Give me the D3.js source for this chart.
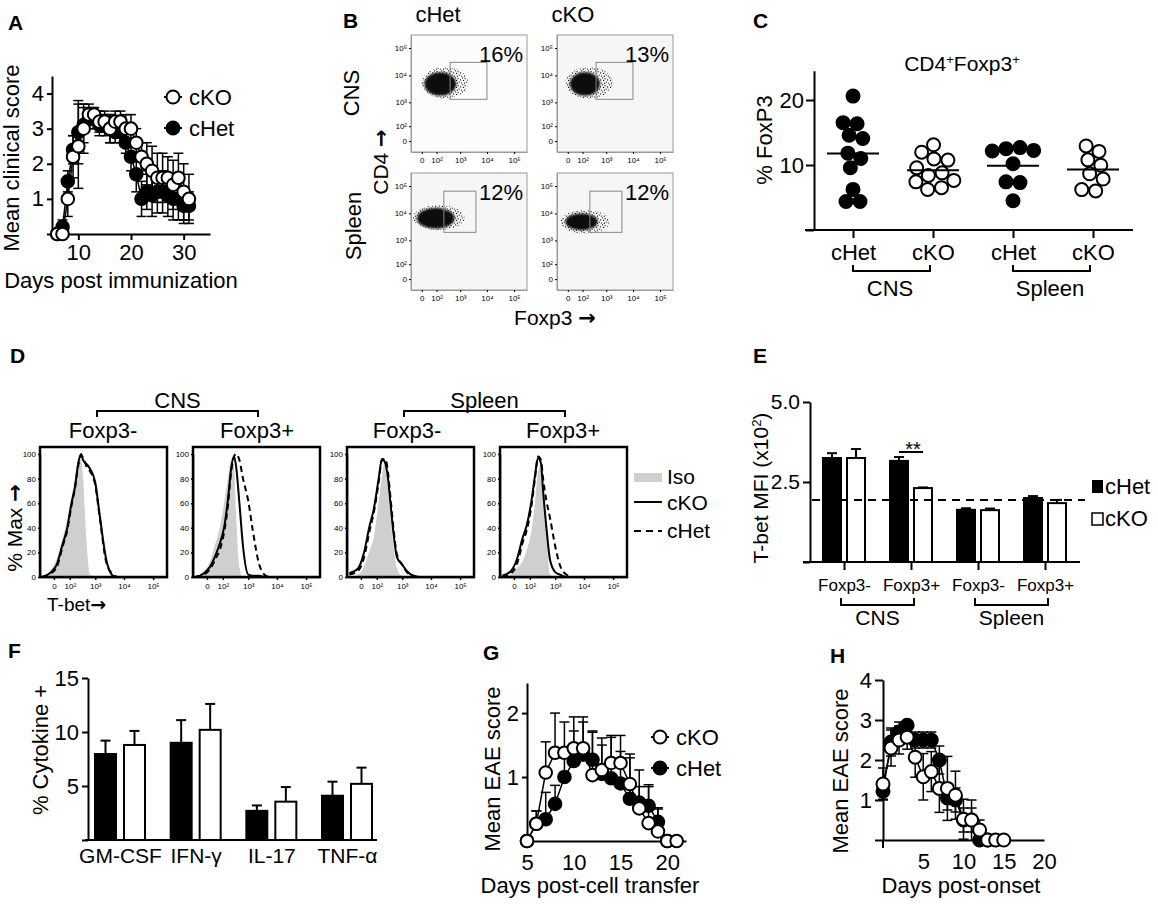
<!DOCTYPE html>
<html lang="en">
<head>
<meta charset="UTF-8">
<title>Foxp3 / T-bet EAE figure</title>
<script src="https://d3js.org/d3.v7.min.js"></script>
<style>
  body { margin: 0; background: #fff; }
  svg { display: block; font-family: 'Liberation Sans', Arial, sans-serif; }
  text { fill: #000; }
  .letter { font-weight: bold; font-size: 21px; }
  .arrow { font-family: 'DejaVu Sans', sans-serif; }
</style>
</head>
<body>
<svg id="fig" width="1158" height="906"></svg>
<script>
// ---------- data ----------
// A: mean clinical score
var daysA    = [6,7,8,9,10,11,12,13,14,15,16,17,18,19,20,21,22,23,24,25,26,27,28,29,30,31];
var ckoA     = [0,0,1.0,2.2,2.5,3.0,3.4,3.4,3.2,3.2,3.0,3.2,3.2,3.0,3.0,2.6,2.2,2.0,1.8,1.6,1.6,1.6,1.4,1.6,1.2,1.0];
var ckoErrA  = [0,0,0.5,0.6,1.2,0.7,0.3,0.2,0.3,0.3,0.4,0.3,0.3,0.4,0.4,0.4,0.4,0.6,0.7,0.7,0.7,0.6,0.7,0.7,0.8,0.7];
var chetA    = [0,0.2,1.5,2.4,2.9,3.1,3.3,3.3,3.1,3.1,3.0,2.9,2.9,2.6,2.2,1.7,1.0,1.2,1.1,1.2,1.2,1.1,1.0,1.0,0.8,0.8];
var chetErrA = [0,0.2,0.3,0.4,0.9,0.5,0.3,0.3,0.3,0.3,0.4,0.3,0.3,0.3,0.4,0.5,0.5,0.5,0.6,0.6,0.6,0.6,0.6,0.6,0.5,0.4];

// B: flow plots (cHet CNS, cKO CNS, cHet Spleen, cKO Spleen)
var flowCols = ["cHet", "cKO"];
var flowRows = ["CNS", "Spleen"];
var flowPct  = ["16%", "13%", "12%", "12%"];
var flowTicks = [0, 1e2, 1e3, 1e4, 1e5];
var flowTickLabels = ["0", "10\u00b2", "10\u00b3", "10\u2074", "10\u2075"];
var gateFoxp3   = [[400, 10000], [400, 10000], [220, 3900], [220, 3900]];
var gateCD4     = [[1300, 30000], [1300, 30000], [2000, 65000], [2000, 65000]];
var coreFoxp3   = [[10, 700], [8, 570], [-20, 600], [-9, 460]];
var coreCD4     = [[1800, 13000], [1800, 13000], [2800, 15700], [2400, 10000]];
var fringeFoxp3 = [[0, 2000], [-9, 1780], [-45, 1480], [-35, 1400]];
var fringeCD4   = [[1400, 20000], [1400, 20000], [2400, 20000], [1800, 13200]];

// C: % FoxP3
var cLabels = ["cHet", "cKO", "cHet", "cKO"];
var cHetCNS = [20.6, 16.3, 16.3, 14.8, 14.1, 11.8, 11.0, 9.6, 6.0, 4.5, 4.5];
var cKoCNS  = [13.1, 11.9, 11.0, 10.6, 9.3, 8.7, 8.5, 7.8, 7.6, 6.5, 6.3];
var cHetSpl = [12.5, 12.3, 12.2, 12.6, 10.2, 7.4, 7.3, 4.5];
var cKoSpl  = [12.8, 11.9, 10.7, 10.0, 8.9, 7.8, 6.2, 6.2];

// D: T-bet histograms (% of max) on a common intensity grid
var dTitles  = ["Foxp3-", "Foxp3+", "Foxp3-", "Foxp3+"];
var tbetGrid = [-60, -10, 10, 40, 70, 120, 170, 230, 300, 360, 480, 650, 1000, 1450, 2450, 4200, 6000];
var iso1  = [0, 6, 15, 32, 45, 65, 80, 95, 96, 80, 30, 2, 0, 0, 0, 0, 0];
var cko1  = [0, 4, 10, 27, 38, 60, 73, 92, 100, 95, 92, 88, 77, 50, 14, 1, 0];
var chet1 = [0, 3, 8, 25, 36, 58, 72, 90, 99, 97, 90, 86, 75, 48, 12, 2, 0];
var iso2  = [0, 5, 12, 28, 40, 62, 80, 96, 90, 50, 8, 0, 0, 0, 0, 0, 0];
var cko2  = [0, 3, 8, 18, 27, 42, 63, 88, 98, 90, 60, 25, 2, 1, 1, 0, 0];
var chet2 = [0, 2, 6, 15, 22, 38, 58, 85, 98, 100, 95, 80, 62, 38, 10, 1, 0];
var iso3  = [0, 2, 8, 22, 32, 60, 82, 95, 72, 52, 25, 7, 1, 0, 0, 0, 0];
var cko3  = [3, 7, 19, 42, 55, 79, 96, 93, 80, 63, 36, 16, 10, 5, 1, 0, 0];
var chet3 = [2, 5, 15, 38, 52, 76, 95, 96, 85, 68, 40, 18, 10, 4, 1, 0, 0];
var iso4  = [0, 2, 7, 13, 22, 38, 60, 86, 90, 72, 35, 2, 0, 0, 0, 0, 0];
var cko4  = [1, 5, 14, 32, 42, 62, 82, 97, 92, 70, 40, 14, 4, 2, 0, 0, 0];
var chet4 = [0, 3, 10, 28, 38, 58, 80, 98, 95, 80, 62, 48, 25, 10, 2, 0, 0];
var dTicksY = [0, 20, 40, 60, 80, 100];

// E: T-bet MFI (x10^2)
var eCats    = ["Foxp3- ", "Foxp3+ ", "Foxp3-", "Foxp3+"];
var eChet    = [3.25, 3.16, 1.63, 2.0];
var eChetErr = [0.15, 0.12, 0.05, 0.06];
var eCko     = [3.25, 2.31, 1.62, 1.84];
var eCkoErr  = [0.28, 0.02, 0.05, 0.1];
var eIsoLine = 1.94;

// F: % cytokine+
var fCats    = ["GM-CSF", "IFN-\u03b3", "IL-17", "TNF-\u03b1"];
var fChet    = [7.96, 9.0, 2.7, 4.1];
var fChetErr = [1.24, 2.1, 0.5, 1.3];
var fCko     = [8.8, 10.2, 3.55, 5.2];
var fCkoErr  = [1.3, 2.4, 1.35, 1.5];

// G: EAE after cell transfer
var daysG    = [5,6,7,8,9,10,11,12,13,14,15,16,17,18,19,20,21];
var ckoG     = [0,0.27,1.07,1.38,1.38,1.45,1.45,1.03,1.11,1.22,1.22,0.89,0.51,0.28,0.15,0,0];
var ckoErrG  = [0,0.2,0.48,0.62,0.48,0.49,0.49,0.67,0.5,0.4,0.43,0.47,0.6,0.6,0.35,0,0];
var daysGh   = [5,6,7,8,9,10,11,12,13,14,15,16,17,18,19,20];
var chetG    = [0,0.27,0.34,0.58,1.0,1.25,1.35,1.27,1.05,0.98,0.9,0.66,0.6,0.55,0.3,0];
var chetErrG = [0,0.2,0.42,0.29,0.3,0.47,0.51,0.45,0.45,0.67,0.5,0.64,0.25,0.3,0.22,0];

// H: EAE post onset
var daysH    = [0,1,2,3,4,5,6,7,8,9,10,11,12,13,14,15];
var ckoH     = [1.4,2.3,2.5,2.57,2.07,1.58,1.71,1.29,1.29,1.12,0.52,0.5,0.25,0,0,0];
var ckoErrH  = [0.4,0.45,0.35,0.3,0.5,0.58,0.5,0.6,0.8,0.6,0.5,0.5,0.25,0,0,0];
var daysHh   = [0,1,2,3,4,5,6,7,8,9,10,11,12,13];
var chetH    = [1.22,2.45,2.7,2.87,2.5,2.5,2.5,2.0,1.05,1.0,0.5,0.5,0,0];
var chetErrH = [0.2,0.35,0.25,0.1,0.2,0.2,0.2,0.35,0.3,0.3,0.3,0.3,0,0];

// ---------- helpers ----------
var svg = d3.select("#fig");

function addText(g, x, y, str, size, anchor, rotate) {
  var t = g.append("text").attr("x", x).attr("y", y)
    .attr("font-size", size).attr("text-anchor", anchor || "start");
  // arrows look too thin in Liberation, borrow DejaVu for them
  str.split(/(\u2192)/).forEach(function (part) {
    if (!part) return;
    var s = t.append("tspan").text(part);
    if (part === "\u2192") s.attr("class", "arrow").attr("font-weight", "bold");
  });
  if (rotate) t.attr("transform", "rotate(-90," + x + "," + y + ")");
  return t;
}

function fixAxis(g, size, width) {
  g.attr("font-family", null).attr("font-size", size);
  g.selectAll(".domain, .tick line").attr("stroke", "#000").attr("stroke-width", width || 2);
  g.selectAll(".tick text").attr("fill", "#000");
  return g;
}

function blankZero(d) { return d === 0 ? "" : d; }

function drawSeries(g, x, y, days, vals, errs, filled, r, upOnly) {
  var pts = days.map(function (d, i) { return { d: d, v: vals[i], e: errs[i] }; });
  g.append("path").datum(pts)
    .attr("fill", "none").attr("stroke", "#000").attr("stroke-width", 1.5)
    .attr("d", d3.line().x(function (p) { return x(p.d); }).y(function (p) { return y(p.v); }));
  var eb = g.append("g").attr("stroke", "#000").attr("stroke-width", 1.5);
  pts.filter(function (p) { return p.e > 0; }).forEach(function (p) {
    var lo = upOnly ? p.v : Math.max(0, p.v - p.e);
    eb.append("line").attr("x1", x(p.d)).attr("x2", x(p.d)).attr("y1", y(lo)).attr("y2", y(p.v + p.e));
    eb.append("line").attr("x1", x(p.d) - 5).attr("x2", x(p.d) + 5).attr("y1", y(p.v + p.e)).attr("y2", y(p.v + p.e));
    if (!upOnly && p.v - p.e > 0)
      eb.append("line").attr("x1", x(p.d) - 5).attr("x2", x(p.d) + 5).attr("y1", y(lo)).attr("y2", y(lo));
  });
  g.selectAll(null).data(pts).enter().append("circle")
    .attr("cx", function (p) { return x(p.d); })
    .attr("cy", function (p) { return y(p.v); })
    .attr("r", r)
    .attr("fill", filled ? "#000" : "#fff")
    .attr("stroke", "#000").attr("stroke-width", 2);
}

function legendDot(g, x, y, label, filled) {
  g.append("line").attr("x1", x - 9).attr("x2", x + 9).attr("y1", y).attr("y2", y)
    .attr("stroke", "#000").attr("stroke-width", 2);
  g.append("circle").attr("cx", x).attr("cy", y).attr("r", 6.5)
    .attr("fill", filled ? "#000" : "#fff").attr("stroke", "#000").attr("stroke-width", 2);
  addText(g, x + 16, y + 8, label, 22);
}

// ---------- Panel A ----------
(function () {
  var g = svg.append("g");
  addText(g, 8, 30, "A", 21).attr("class", "letter");
  var x = d3.scaleLinear().domain([5, 35]).range([52, 210]);
  var y = d3.scaleLinear().domain([0, 4.5]).range([234, 76]);
  fixAxis(g.append("g").attr("transform", "translate(0,234)")
    .call(d3.axisBottom(x).tickValues([10, 20, 30]).tickSize(6).tickSizeOuter(0).tickPadding(4)), 22);
  fixAxis(g.append("g").attr("transform", "translate(52,0)")
    .call(d3.axisLeft(y).tickValues([0, 1, 2, 3, 4]).tickFormat(blankZero).tickSize(5).tickSizeOuter(0).tickPadding(3)), 22);
  drawSeries(g, x, y, daysA, chetA, chetErrA, true, 6.3, false);
  drawSeries(g, x, y, daysA, ckoA, ckoErrA, false, 6.3, false);
  addText(g, 121, 288, "Days post immunization", 22, "middle");
  addText(g, 19, 158, "Mean clinical score", 22, "middle", true);
  legendDot(g, 173, 97, "cKO", false);
  legendDot(g, 173, 128, "cHet", true);
})();

// ---------- Panel B ----------
(function () {
  var g = svg.append("g");
  addText(g, 343, 28, "B", 21).attr("class", "letter");
  var defs = svg.append("defs");
  var pat = defs.append("pattern").attr("id", "speckle").attr("patternUnits", "userSpaceOnUse")
    .attr("width", 7).attr("height", 7);
  [[0.6, 0.8], [3.1, 1.7], [5.6, 2.9], [1.6, 3.4], [4.2, 5.1], [2.4, 6.2], [6.4, 6.0]].forEach(function (p) {
    pat.append("circle").attr("cx", p[0]).attr("cy", p[1]).attr("r", 0.6).attr("fill", "#000");
  });
  defs.append("filter").attr("id", "soft").append("feGaussianBlur").attr("stdDeviation", 1.3);

  var colX = [411, 557], rowY = [35, 173], w = 116, h = 117;
  flowCols.forEach(function (c, i) { addText(g, colX[i] + 27 + (i === 0 ? 0 : -11), 22, c, 22, "middle"); });
  addText(g, 359, 93, flowRows[0], 22, "middle", true);
  addText(g, 361, 226, flowRows[1], 22, "middle", true);
  addText(g, 388, 162, "CD4 \u2192", 21, "middle", true);
  addText(g, 555, 325, "Foxp3 \u2192", 21, "middle");

  for (var k = 0; k < 4; k++) {
    var col = k % 2, row = Math.floor(k / 2);
    var x0 = colX[col], y0 = rowY[row];
    var x = d3.scaleSymlog().constant(40).domain([-60, 3e5]).range([x0, x0 + w]);
    var y = d3.scaleSymlog().constant(40).domain([-60, 3e5]).range([y0 + h, y0]);
    var p = g.append("g");
    p.append("rect").attr("x", x0).attr("y", y0).attr("width", w).attr("height", h)
      .attr("fill", k === 0 ? "#fcfcfc" : "#f6f6f6").attr("stroke", "#9a9a9a").attr("stroke-width", 1);
    // cell cloud: sparse fringe + dense core
    p.append("ellipse")
      .attr("cx", (x(fringeFoxp3[k][0]) + x(fringeFoxp3[k][1])) / 2)
      .attr("cy", (y(fringeCD4[k][0]) + y(fringeCD4[k][1])) / 2)
      .attr("rx", (x(fringeFoxp3[k][1]) - x(fringeFoxp3[k][0])) / 2)
      .attr("ry", (y(fringeCD4[k][0]) - y(fringeCD4[k][1])) / 2)
      .attr("fill", "url(#speckle)");
    p.append("ellipse")
      .attr("cx", (x(coreFoxp3[k][0]) + x(coreFoxp3[k][1])) / 2)
      .attr("cy", (y(coreCD4[k][0]) + y(coreCD4[k][1])) / 2)
      .attr("rx", (x(coreFoxp3[k][1]) - x(coreFoxp3[k][0])) / 2)
      .attr("ry", (y(coreCD4[k][0]) - y(coreCD4[k][1])) / 2)
      .attr("fill", "#111").attr("filter", "url(#soft)");
    // gate
    p.append("rect")
      .attr("x", x(gateFoxp3[k][0])).attr("y", y(gateCD4[k][1]))
      .attr("width", x(gateFoxp3[k][1]) - x(gateFoxp3[k][0]))
      .attr("height", y(gateCD4[k][0]) - y(gateCD4[k][1]))
      .attr("fill", "none").attr("stroke", "#888").attr("stroke-width", 1);
    addText(p, x0 + w - 4, y0 + 27, flowPct[k], 22, "end");
    var fmt = function (d) { return flowTickLabels[flowTicks.indexOf(d)]; };
    fixAxis(p.append("g").attr("transform", "translate(0," + (y0 + h) + ")")
      .call(d3.axisBottom(x).tickValues(flowTicks).tickFormat(fmt).tickSize(2).tickSizeOuter(0).tickPadding(3)), 8, 1)
      .selectAll(".domain").attr("stroke", "#9a9a9a");
    fixAxis(p.append("g").attr("transform", "translate(" + x0 + ",0)")
      .call(d3.axisLeft(y).tickValues(flowTicks).tickFormat(fmt).tickSize(2).tickSizeOuter(0).tickPadding(2)), 8, 1)
      .selectAll(".domain").attr("stroke", "#9a9a9a");
  }
})();

// ---------- Panel C ----------
(function () {
  var g = svg.append("g");
  addText(g, 753, 28, "C", 21).attr("class", "letter");
  var x = d3.scalePoint().domain([0, 1, 2, 3]).range([853, 1093]);
  var y = d3.scaleLinear().domain([0, 24.5]).range([230, 70.75]);
  var ax = g.append("g").attr("transform", "translate(0,230)")
    .call(d3.axisBottom(x).tickFormat(function (i) { return cLabels[i]; }).tickSize(8).tickSizeOuter(0).tickPadding(6));
  fixAxis(ax, 22);
  ax.select(".domain").attr("d", "M805,0H1133");
  fixAxis(g.append("g").attr("transform", "translate(814,0)")
    .call(d3.axisLeft(y).tickValues([0, 10, 20]).tickFormat(blankZero).tickSize(8).tickSizeOuter(0).tickPadding(2)), 22);

  var groups = [cHetCNS, cKoCNS, cHetSpl, cKoSpl];
  groups.forEach(function (vals, i) {
    var nodes = vals.map(function (v) { return { v: v, x: x(i), y: y(v) }; });
    var sim = d3.forceSimulation(nodes)
      .force("x", d3.forceX(x(i)).strength(0.08))
      .force("y", d3.forceY(function (n) { return y(n.v); }).strength(1))
      .force("c", d3.forceCollide(7))
      .stop();
    for (var t = 0; t < 200; t++) sim.tick();
    g.selectAll(null).data(nodes).enter().append("circle")
      .attr("cx", function (n) { return n.x; }).attr("cy", function (n) { return n.y; })
      .attr("r", 6.5).attr("fill", i % 2 === 0 ? "#000" : "#fff")
      .attr("stroke", "#000").attr("stroke-width", 2);
    var m = d3.mean(vals);
    g.append("line").attr("x1", x(i) - 26).attr("x2", x(i) + 26).attr("y1", y(m)).attr("y2", y(m))
      .attr("stroke", "#000").attr("stroke-width", 2);
  });
  [[0, 1, "CNS"], [2, 3, "Spleen"]].forEach(function (b) {
    g.append("path").attr("d", "M" + x(b[0]) + ",265V271H" + (x(b[1]) - 3) + "V265")
      .attr("fill", "none").attr("stroke", "#000").attr("stroke-width", 2);
    addText(g, (x(b[0]) + x(b[1])) / 2 - 3, 296, b[2], 22, "middle");
  });
  var title = addText(g, 962, 71, "", 21, "middle");
  title.append("tspan").text("CD4");
  title.append("tspan").attr("dy", -7).attr("font-size", 13).text("+");
  title.append("tspan").attr("dy", 7).text("Foxp3");
  title.append("tspan").attr("dy", -7).attr("font-size", 13).text("+");
  addText(g, 772, 140, "% FoxP3", 22, "middle", true);
})();

// ---------- Panel D ----------
(function () {
  var g = svg.append("g");
  addText(g, 10, 363, "D", 21).attr("class", "letter");
  var boxX = [40, 193, 347, 500], w = 127, top = 447, bottom = 577;
  var series = [[iso1, cko1, chet1], [iso2, cko2, chet2], [iso3, cko3, chet3], [iso4, cko4, chet4]];
  var titleX = [103, 257, 407, 563];
  var y = d3.scaleLinear().domain([0, 100]).range([bottom, 454]);
  var defs = svg.append("defs");
  boxX.forEach(function (x0, k) {
    var x = d3.scaleSymlog().constant(40).domain([-80, 3e5]).range([x0, x0 + w]);
    var p = g.append("g");
    defs.append("clipPath").attr("id", "clipD" + k).append("rect")
      .attr("x", x0).attr("y", top).attr("width", w).attr("height", bottom - top);
    var c = p.append("g").attr("clip-path", "url(#clipD" + k + ")");
    var pts = function (arr) { return tbetGrid.map(function (t, i) { return [t, arr[i]]; }); };
    c.append("path").datum(pts(series[k][0])).attr("fill", "#cfcfcf")
      .attr("d", d3.area().curve(d3.curveMonotoneX).x(function (d) { return x(d[0]); })
        .y0(bottom).y1(function (d) { return y(d[1]); }));
    var line = d3.line().curve(d3.curveMonotoneX).x(function (d) { return x(d[0]); }).y(function (d) { return y(d[1]); });
    c.append("path").datum(pts(series[k][2])).attr("fill", "none").attr("stroke", "#000")
      .attr("stroke-width", 2).attr("stroke-dasharray", "6,4").attr("d", line);
    c.append("path").datum(pts(series[k][1])).attr("fill", "none").attr("stroke", "#000")
      .attr("stroke-width", 2).attr("d", line);
    p.append("rect").attr("x", x0).attr("y", top).attr("width", w).attr("height", bottom - top)
      .attr("fill", "none").attr("stroke", "#000").attr("stroke-width", 2.5);
    fixAxis(p.append("g").attr("transform", "translate(0," + bottom + ")")
      .call(d3.axisBottom(x).tickValues(flowTicks)
        .tickFormat(function (d) { return flowTickLabels[flowTicks.indexOf(d)]; })
        .tickSize(3).tickSizeOuter(0).tickPadding(3)), 8, 1.5);
    fixAxis(p.append("g").attr("transform", "translate(" + x0 + ",0)")
      .call(d3.axisLeft(y).tickValues(dTicksY).tickSize(2).tickSizeOuter(0).tickPadding(2)), 8, 1.5);
    addText(g, titleX[k], 438, dTitles[k], 22, "middle");
  });
  [[97, 258, "CNS"], [404, 565, "Spleen"]].forEach(function (b) {
    g.append("path").attr("d", "M" + b[0] + ",417V411H" + b[1] + "V417")
      .attr("fill", "none").attr("stroke", "#000").attr("stroke-width", 2);
    addText(g, (b[0] + b[1]) / 2, 408, b[2], 22, "middle");
  });
  addText(g, 22, 528, "% Max \u2192", 21, "middle", true);
  addText(g, 47, 611, "T-bet\u2192", 19);
  // legend
  g.append("rect").attr("x", 634).attr("y", 473).attr("width", 28).attr("height", 9).attr("fill", "#cfcfcf");
  addText(g, 667, 484, "Iso", 21);
  g.append("line").attr("x1", 634).attr("x2", 662).attr("y1", 502).attr("y2", 502).attr("stroke", "#000").attr("stroke-width", 2);
  addText(g, 667, 510, "cKO", 21);
  g.append("line").attr("x1", 634).attr("x2", 662).attr("y1", 531).attr("y2", 531).attr("stroke", "#000")
    .attr("stroke-width", 2).attr("stroke-dasharray", "7,5");
  addText(g, 667, 538, "cHet", 21);
})();

// grouped bar helper for E and F
function drawBars(g, x, inner, y, cats, chet, chetErr, cko, ckoErr) {
  [[chet, chetErr, "cHet", "#000"], [cko, ckoErr, "cKO", "#fff"]].forEach(function (s) {
    cats.forEach(function (c, i) {
      var bx = x(c) + inner(s[2]), bw = inner.bandwidth();
      g.append("line").attr("x1", bx + bw / 2).attr("x2", bx + bw / 2)
        .attr("y1", y(s[0][i])).attr("y2", y(s[0][i] + s[1][i])).attr("stroke", "#000").attr("stroke-width", 2);
      g.append("line").attr("x1", bx + bw / 2 - 5).attr("x2", bx + bw / 2 + 5)
        .attr("y1", y(s[0][i] + s[1][i])).attr("y2", y(s[0][i] + s[1][i])).attr("stroke", "#000").attr("stroke-width", 2);
      g.append("rect").attr("x", bx).attr("y", y(s[0][i])).attr("width", bw)
        .attr("height", y(0) - y(s[0][i])).attr("fill", s[3]).attr("stroke", "#000").attr("stroke-width", 2);
    });
  });
}

// ---------- Panel E ----------
(function () {
  var g = svg.append("g");
  addText(g, 753, 363, "E", 21).attr("class", "letter");
  var x = d3.scalePoint().domain(eCats).range([844, 1045]);
  var inner = d3.scaleBand().domain(["cHet", "cKO"]).range([-21, 21]).paddingInner(0.25);
  var y = d3.scaleLinear().domain([0, 5]).range([562, 402]);
  drawBars(g, x, inner, y, eCats, eChet, eChetErr, eCko, eCkoErr);
  g.append("line").attr("x1", 812).attr("x2", 1085).attr("y1", y(eIsoLine)).attr("y2", y(eIsoLine))
    .attr("stroke", "#000").attr("stroke-width", 2).attr("stroke-dasharray", "8,6");
  var ax = g.append("g").attr("transform", "translate(0,562)")
    .call(d3.axisBottom(x).tickSize(8).tickSizeOuter(0).tickPadding(9)
      .tickFormat(function (d) { return d.trim(); }));
  fixAxis(ax, 17);
  ax.select(".domain").attr("d", "M803,0H1080");
  fixAxis(g.append("g").attr("transform", "translate(810,0)")
    .call(d3.axisLeft(y).tickValues([0, 2.5, 5]).tickFormat(function (d) { return d === 0 ? "" : d3.format(".1f")(d); })
      .tickSize(7).tickSizeOuter(0).tickPadding(3)), 21);
  [[0, 1, "CNS"], [2, 3, "Spleen"]].forEach(function (b) {
    var a = x(eCats[b[0]]), c = x(eCats[b[1]]);
    g.append("path").attr("d", "M" + (a - 3) + ",598V605H" + (c + 3) + "V598")
      .attr("fill", "none").attr("stroke", "#000").attr("stroke-width", 2);
    addText(g, (a + c) / 2, 625, b[2], 21, "middle");
  });
  g.append("line").attr("x1", 899).attr("x2", 923).attr("y1", 452).attr("y2", 452).attr("stroke", "#000").attr("stroke-width", 2);
  addText(g, 913, 456, "**", 20, "middle");
  var yl = addText(g, 768, 488, "", 21, "middle", true);
  yl.append("tspan").text("T-bet MFI (x10");
  yl.append("tspan").attr("dy", -7).attr("font-size", 13).text("2");
  yl.append("tspan").attr("dy", 7).text(")");
  g.append("rect").attr("x", 1092).attr("y", 480).attr("width", 11).attr("height", 13).attr("fill", "#000");
  addText(g, 1105, 494, "cHet", 22);
  g.append("rect").attr("x", 1092).attr("y", 513).attr("width", 11).attr("height", 12)
    .attr("fill", "#fff").attr("stroke", "#000").attr("stroke-width", 1.5);
  addText(g, 1105, 526, "cKO", 22);
})();

// ---------- Panel F ----------
(function () {
  var g = svg.append("g");
  addText(g, 8, 658, "F", 21).attr("class", "letter");
  var x = d3.scalePoint().domain(fCats).range([120, 347]);
  var inner = d3.scaleBand().domain(["cHet", "cKO"]).range([-25, 25]).paddingInner(0.276);
  var y = d3.scaleLinear().domain([0, 15]).range([840, 678]);
  drawBars(g, x, inner, y, fCats, fChet, fChetErr, fCko, fCkoErr);
  var ax = g.append("g").attr("transform", "translate(0,840)")
    .call(d3.axisBottom(x).tickSize(0).tickSizeOuter(0).tickPadding(8));
  fixAxis(ax, 21);
  ax.select(".domain").attr("d", "M85,0H377");
  fixAxis(g.append("g").attr("transform", "translate(88,0)")
    .call(d3.axisLeft(y).tickValues([0, 5, 10, 15]).tickFormat(blankZero).tickSize(6).tickSizeOuter(0).tickPadding(3)), 22);
  addText(g, 48, 750, "% Cytokine +", 22, "middle", true);
})();

// ---------- Panel G ----------
(function () {
  var g = svg.append("g");
  addText(g, 483, 660, "G", 21).attr("class", "letter");
  var x = d3.scaleLinear().domain([5, 22]).range([527, 686]);
  var y = d3.scaleLinear().domain([0, 2.47]).range([841, 683]);
  fixAxis(g.append("g").attr("transform", "translate(0,841)")
    .call(d3.axisBottom(x).tickValues([5, 10, 15, 20]).tickSize(0).tickSizeOuter(0).tickPadding(13)), 22);
  fixAxis(g.append("g").attr("transform", "translate(527,0)")
    .call(d3.axisLeft(y).tickValues([0, 1, 2]).tickFormat(blankZero).tickSize(5).tickSizeOuter(0).tickPadding(3)), 22);
  drawSeries(g, x, y, daysGh, chetG, chetErrG, true, 6.3, true);
  drawSeries(g, x, y, daysG, ckoG, ckoErrG, false, 6.3, true);
  addText(g, 590, 893, "Days post-cell transfer", 22, "middle");
  addText(g, 500, 769, "Mean EAE score", 22, "middle", true);
  legendDot(g, 660, 737, "cKO", false);
  legendDot(g, 660, 768, "cHet", true);
})();

// ---------- Panel H ----------
(function () {
  var g = svg.append("g");
  addText(g, 830, 663, "H", 21).attr("class", "letter");
  var x = d3.scaleLinear().domain([0, 20]).range([883, 1044]);
  var y = d3.scaleLinear().domain([0, 4]).range([840, 680]);
  fixAxis(g.append("g").attr("transform", "translate(0,840)")
    .call(d3.axisBottom(x).tickValues([0, 5, 10, 15, 20]).tickFormat(blankZero).tickSize(0).tickSizeOuter(0).tickPadding(13)), 22);
  g.append("line").attr("x1", 883).attr("x2", 883).attr("y1", 840).attr("y2", 848).attr("stroke", "#000").attr("stroke-width", 2);
  fixAxis(g.append("g").attr("transform", "translate(883,0)")
    .call(d3.axisLeft(y).tickValues([0, 1, 2, 3, 4]).tickFormat(blankZero).tickSize(8).tickSizeOuter(0).tickPadding(3)), 22);
  drawSeries(g, x, y, daysHh, chetH, chetErrH, true, 6.5, false);
  drawSeries(g, x, y, daysH, ckoH, ckoErrH, false, 6.5, false);
  addText(g, 961, 893, "Days post-onset", 22, "middle");
  addText(g, 848, 771, "Mean EAE score", 22, "middle", true);
})();
</script>
</body>
</html>
